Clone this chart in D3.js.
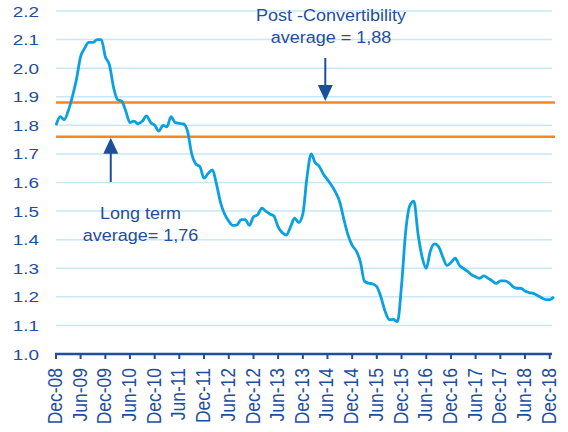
<!DOCTYPE html>
<html>
<head>
<meta charset="utf-8">
<script src="https://cdn.jsdelivr.net/npm/d3@7"></script>
<style>
  body { margin: 0; background: #fff; }
  text { font-family: "Liberation Sans", Arial, sans-serif; fill: #1f4e9e; }
</style>
</head>
<body>
<div id="chart"></div>
<script>
// monthly values, Dec-08 .. Jan-19
const firstMonth = new Date(2008, 11, 1);
const values = [
  1.80, 1.83, 1.82, 1.85, 1.90, 1.96, 2.04, 2.07, 2.09, 2.09, 2.10, 2.10,
  2.04, 2.01, 1.93, 1.89, 1.885, 1.85, 1.81, 1.815, 1.805, 1.815, 1.833, 1.81,
  1.80, 1.78, 1.80, 1.795, 1.83, 1.81, 1.807, 1.805, 1.78, 1.70, 1.665, 1.655,
  1.615, 1.632, 1.644, 1.597, 1.53, 1.49, 1.465, 1.45, 1.452, 1.47, 1.47, 1.45,
  1.48, 1.487, 1.51, 1.50, 1.49, 1.483, 1.445, 1.425, 1.416, 1.445, 1.475, 1.46,
  1.49, 1.62, 1.70, 1.67, 1.657, 1.63, 1.61, 1.59, 1.565, 1.53, 1.47, 1.415,
  1.38, 1.36, 1.32, 1.255, 1.248, 1.245, 1.236, 1.20, 1.15, 1.12, 1.121, 1.113,
  1.24, 1.43, 1.52, 1.535, 1.42, 1.34, 1.30, 1.36, 1.385, 1.375, 1.34, 1.31,
  1.32, 1.335, 1.31, 1.30, 1.29, 1.278, 1.27, 1.265, 1.273, 1.265, 1.256, 1.247,
  1.256, 1.256, 1.25, 1.237, 1.23, 1.23, 1.22, 1.215, 1.212, 1.205, 1.197, 1.19,
  1.19, 1.20
];
const yTicks = [1.0, 1.1, 1.2, 1.3, 1.4, 1.5, 1.6, 1.7, 1.8, 1.9, 2.0, 2.1, 2.2];
// x tick labels every 6 months: Dec-08, Jun-09, ... Dec-18
const xTickLabels = ["Dec-08", "Jun-09", "Dec-09", "Jun-10", "Dec-10", "Jun-11", "Dec-11",
  "Jun-12", "Dec-12", "Jun-13", "Dec-13", "Jun-14", "Dec-14", "Jun-15", "Dec-15",
  "Jun-16", "Dec-16", "Jun-17", "Dec-17", "Jun-18", "Dec-18"];
const averages = [
  { value: 1.88, lines: ["Post -Convertibility", "average = 1,88"], arrowAt: new Date(2014, 4, 16), dir: "down" },
  { value: 1.76, lines: ["Long term", "average= 1,76"], arrowAt: new Date(2010, 0, 10), dir: "up" }
];

const width = 568, height = 432;
const plotLeft = 56, plotRight = 552, plotTop = 11, plotBottom = 354;

const svg = d3.select("#chart").append("svg")
  .attr("width", width)
  .attr("height", height);

const x = d3.scaleTime()
  .domain([firstMonth, new Date(2018, 11, 1)])
  .range([plotLeft, 549.7]);
const y = d3.scaleLinear().domain([1.0, 2.2]).range([plotBottom, plotTop]);

const data = values.map((v, i) => ({ date: d3.timeMonth.offset(firstMonth, i), value: v }));
const parseTick = d3.timeParse("%b-%y");
const xTicks = xTickLabels.map(l => ({ label: l, date: parseTick(l) }));

// grid
svg.append("g").selectAll("line")
  .data(yTicks.slice(1))
  .enter().append("line")
  .attr("x1", plotLeft).attr("x2", plotRight)
  .attr("y1", d => y(d)).attr("y2", d => y(d))
  .attr("stroke", "#c6e8f7")
  .attr("stroke-width", 1.5);

// y labels
svg.append("g").selectAll("text")
  .data(yTicks)
  .enter().append("text")
  .attr("text-anchor", "end")
  .attr("font-size", "15.5px")
  .attr("transform", d => `translate(39,${y(d) + 5.5}) scale(1.22,1)`)
  .text(d => d.toFixed(1));

// x axis
svg.append("line")
  .attr("x1", plotLeft - 1).attr("x2", plotRight)
  .attr("y1", plotBottom).attr("y2", plotBottom)
  .attr("stroke", "#1f4e9e").attr("stroke-width", 2.5);
svg.append("g").selectAll("line")
  .data(xTicks)
  .enter().append("line")
  .attr("x1", d => x(d.date)).attr("x2", d => x(d.date))
  .attr("y1", plotBottom).attr("y2", plotBottom + 5)
  .attr("stroke", "#1f4e9e").attr("stroke-width", 2);
svg.append("g").selectAll("text")
  .data(xTicks)
  .enter().append("text")
  .attr("text-anchor", "end")
  .attr("font-size", "17.5px")
  .attr("transform", d => `translate(${x(d.date) + 6},368) scale(1.12,1) rotate(-90)`)
  .text(d => d.label);

// average lines
svg.append("g").selectAll("line")
  .data(averages)
  .enter().append("line")
  .attr("x1", plotLeft).attr("x2", 555)
  .attr("y1", d => y(d.value)).attr("y2", d => y(d.value))
  .attr("stroke", "#f7861f")
  .attr("stroke-width", 2.6);

// series
svg.append("path")
  .datum(data)
  .attr("fill", "none")
  .attr("stroke", "#0ba0e0")
  .attr("stroke-width", 2.8)
  .attr("stroke-linejoin", "round")
  .attr("d", d3.line().x(d => x(d.date)).y(d => y(d.value)).curve(d3.curveMonotoneX));

// annotations
const arrowColor = "#1b4f9c";
averages.forEach(a => {
  const ax = x(a.arrowAt);
  const tip = a.dir === "down" ? y(a.value) - 1.5 : y(a.value) + 1;
  const s = a.dir === "down" ? -1 : 1;
  const tail = a.dir === "down" ? 58 : 182;
  svg.append("line")
    .attr("x1", ax).attr("x2", ax)
    .attr("y1", tail).attr("y2", tip + s * 10)
    .attr("stroke", arrowColor).attr("stroke-width", 2);
  svg.append("path")
    .attr("d", `M${ax},${tip} L${ax - 7.5},${tip + s * 16} L${ax + 7.5},${tip + s * 16} Z`)
    .attr("fill", arrowColor);
});

const labelPos = [{ cx: 331, y0: 20.7 }, { cx: 140.5, y0: 219.3 }];
averages.forEach((a, i) => {
  const t = svg.append("text")
    .attr("text-anchor", "middle")
    .attr("font-size", "17px")
    .attr("transform", `translate(${labelPos[i].cx},${labelPos[i].y0}) scale(1.06,1)`);
  a.lines.forEach((l, j) => {
    t.append("tspan").attr("x", 0).attr("y", j * 22).text(l);
  });
});
</script>
</body>
</html>
